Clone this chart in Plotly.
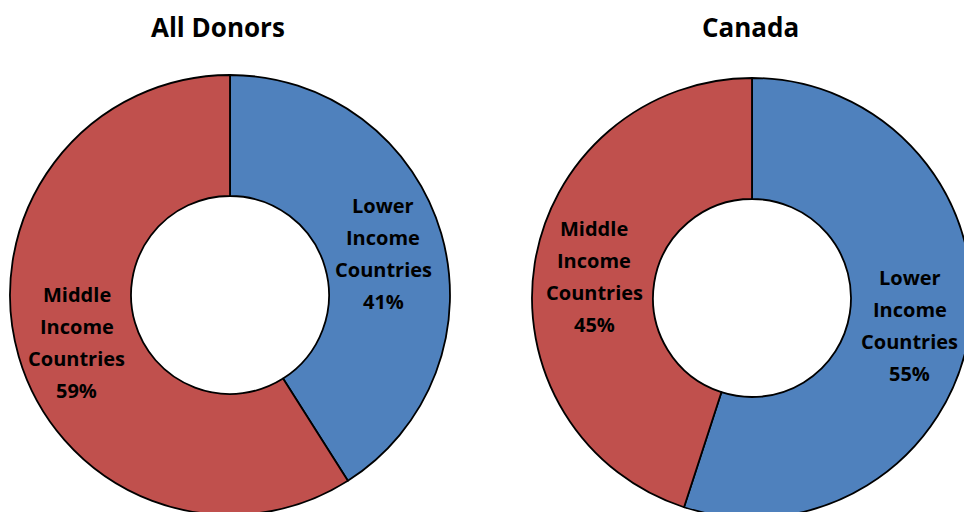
import math
import plotly.graph_objects as go

categories = ["Lower Income Countries", "Middle Income Countries"]
all_donors_values = [41, 59]
canada_values = [55, 45]
chart_titles = ["All Donors", "Canada"]
colors = ["#4F81BD", "#C0504D"]

FONT = "Open Sans"
W, H = 1000, 540
HOLE = 0.45
LABEL_SIZE = 20
LINE_GAP = 32
LABEL_DROP = 3

# donut boxes in pixels: (left, top, size)
boxes = [(10, 75, 440), (532, 78, 440)]
title_x = [218, 750]

fig = go.Figure()

for values, (left, top, size), title, tx in zip(
    [all_donors_values, canada_values], boxes, chart_titles, title_x
):
    dom = dict(x=[left / W, (left + size) / W], y=[1 - (top + size) / H, 1 - top / H])
    fig.add_trace(go.Pie(
        labels=categories,
        values=values,
        textinfo="none",
        sort=False,
        direction="clockwise",
        rotation=0,
        hole=HOLE,
        marker=dict(colors=colors, line=dict(color="black", width=1.8)),
        domain=dom,
        showlegend=False,
        hoverinfo="label+percent",
    ))

    # data labels placed at the middle of the ring along each slice's bisector
    cx, cy, R = left + size / 2, top + size / 2, size / 2
    rmid = R * (1 + HOLE) / 2
    total = sum(values)
    start = 0.0
    for cat, v in zip(categories, values):
        frac = v / total
        ang = 2 * math.pi * (start + frac / 2)
        start += frac
        px = cx + rmid * math.sin(ang)
        py = cy - rmid * math.cos(ang)
        lines = cat.split(" ") + ["%d%%" % round(frac * 100)]
        n = len(lines)
        for i, line in enumerate(lines):
            fig.add_annotation(
                text="<b>%s</b>" % line, x=px / W, y=1 - py / H,
                xref="paper", yref="paper", xanchor="center", yanchor="middle",
                yshift=-(i - (n - 1) / 2) * LINE_GAP - LABEL_DROP, showarrow=False,
                font=dict(family=FONT, size=LABEL_SIZE, color="black"),
            )

    fig.add_annotation(
        text="<b>%s</b>" % title, x=tx / W, y=1 - 27 / H, xref="paper", yref="paper",
        xanchor="center", yanchor="middle", showarrow=False,
        font=dict(family=FONT, size=26, color="black"),
    )

fig.update_layout(
    width=W, height=H, autosize=False,
    margin=dict(l=0, r=0, t=0, b=0),
    paper_bgcolor="white", plot_bgcolor="white",
    font=dict(family=FONT),
)

fig.write_html(
    "out.html",
    config={"displayModeBar": False},
    post_script="document.body.style.margin='0';document.body.style.overflow='hidden';document.documentElement.style.overflow='hidden';",
)
